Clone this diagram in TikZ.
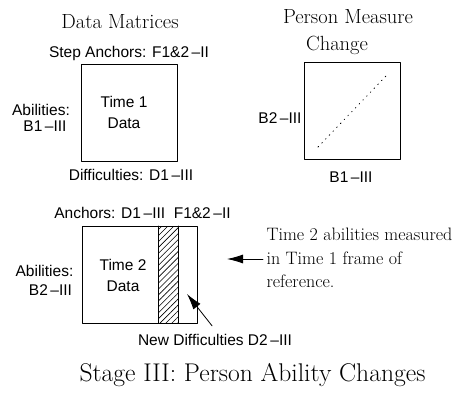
\documentclass[tikz,border=0pt]{standalone}
\usepackage{fontspec}
\setsansfont{Liberation Sans}
\usetikzlibrary{arrows.meta,patterns.meta}
\begin{document}
\begin{tikzpicture}[x=1pt,y=1pt,line cap=round,line join=round,
  lab/.style={font=\sffamily\fontsize{15.5}{21}\selectfont,align=center},
  ttl/.style={font=\fontsize{20.5}{28}\selectfont\addfontfeatures{FakeBold=.6}},
  box/.style={draw,line width=1pt,minimum height=97pt,inner sep=0pt},
  arr/.style={line width=.8pt,-{Latex[length=16pt,width=9pt]}}]
\useasboundingbox (0,0) rectangle (473,394);
% time 1 matrix
\node[ttl] (dmtitle) at (120,372) {Data Matrices};
\node[box,minimum width=96pt] (t1box) at (129,280.5) {};
\node[lab] (step1) at (129,341) {Step Anchors: F1\&2\,--II};
\node[lab] (abil1) at (41,284) {Abilities:};
\node[lab] (b1left) at (45,268) {B1\,--III};
\node[lab] (t1data) at (124,282) {Time 1\\Data};
\node[lab] (diff1) at (131,219) {Difficulties: D1\,--III};
% person measure change
\node[ttl] (pmtitle) at (348,377) {Person Measure};
\node[ttl] (pmtitle2) at (337,349) {Change};
\node[box,minimum width=96pt] (pmbox) at (352,282.5) {};
\node[lab] (b2side) at (280,276) {B2\,--III};
\node[lab] (b1bot) at (351,217) {B1\,--III};
\draw[line width=.8pt,dash pattern=on .8pt off 4.6pt] (318,247)--(386,318);
% time 2 matrix
\node[box,minimum width=115pt] (t2box) at (139.5,119.5) {};
\fill[pattern={Lines[angle=45,distance=4.2pt,line width=.6pt]}] (158,71) rectangle (178,168);
\draw[line width=.8pt] (158,71)--(158,168);
\draw[line width=.8pt] (178,71)--(178,168);
\node[lab] (anch2) at (142.5,181) {Anchors: D1\,--III\ \ F1\&2\,--II};
\node[lab] (abil2) at (44.5,123) {Abilities:};
\node[lab] (b2left) at (50.5,104) {B2\,--III};
\node[lab] (t2data) at (123,118.5) {Time 2\\Data};
\node[lab] (newdiff) at (215,54) {New Difficulties D2\,--III};
\coordinate (d2tip) at (187,100);
\draw[arr] ([shift={(-3,5)}]newdiff.north)--(d2tip);
% note
\node[font=\fontsize{18}{23.5}\selectfont\addfontfeatures{FakeBold=.6},align=left,anchor=west] (note) at (263,136)
  {Time 2 abilities measured\\in Time 1 frame of\\reference.};
\coordinate (notetip) at (227,135);
\draw[arr] ([yshift=-1pt]note.west)--(notetip);
\node[font=\fontsize{25.6}{30}\selectfont\addfontfeatures{FakeBold=.6}] (stage) at (252.5,19) {Stage III: Person Ability Changes};
\end{tikzpicture}
\end{document}
